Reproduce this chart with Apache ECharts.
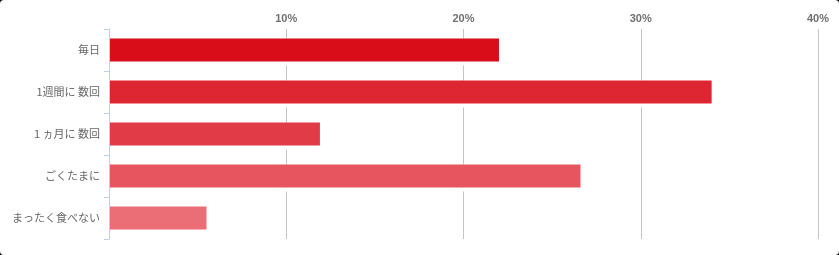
<!DOCTYPE html>
<html><head><meta charset="utf-8">
<script src="https://cdn.jsdelivr.net/npm/echarts@6/dist/echarts.min.js"></script>
<style>
html,body{margin:0;padding:0;background:#000;}
#c{width:839px;height:255px;background:#fff;border-radius:4px;overflow:hidden;}
</style></head><body>
<div id="c"></div>
<script>
const categories = ['毎日', '1週間に 数回', '1 ヵ月に 数回', 'ごくたまに', 'まったく食べない'];
const values = [22.0, 34.0, 11.9, 26.6, 5.5];
const barColors = ['#d90c19', '#de2633', '#e23b48', '#e7555f', '#eb6d75'];
const xTicks = [0, 10, 20, 30, 40];

const chart = echarts.init(document.getElementById('c'), null, {renderer: 'canvas'});
chart.setOption({
  animation: false,
  grid: {left: 109, right: 21, top: 29, bottom: 16, containLabel: false},
  xAxis: {
    type: 'value', position: 'top', min: xTicks[0], max: xTicks[xTicks.length - 1], interval: 10,
    axisLine: {show: false}, axisTick: {show: false},
    axisLabel: {
      margin: 5, color: '#707070', fontSize: 11, fontWeight: 'bold', fontFamily: 'Liberation Sans, Arial, sans-serif',
      formatter: v => v === 0 ? '' : v + '%'
    },
    splitLine: {show: true, lineStyle: {color: '#c4c4c4', width: 1}},
  },
  yAxis: {
    type: 'category', inverse: true, data: categories, z: 10,
    axisLine: {show: true, lineStyle: {color: '#c3cfdb', width: 1}},
    axisTick: {show: true, length: 5, lineStyle: {color: '#c3cfdb'}},
    axisLabel: {margin: 9, color: '#666', fontSize: 11, fontFamily: 'Noto Sans CJK JP, sans-serif'},
  },
  series: [{
    type: 'bar', z: 1, silent: true,
    data: values,
    barWidth: 27,
    itemStyle: {color: '#fff'},
  }, {
    type: 'bar', z: 2,
    data: values.map((v, i) => ({value: v, itemStyle: {color: barColors[i]}})),
    barWidth: 23, barGap: '-100%',
  }]
});
</script>
</body></html>
